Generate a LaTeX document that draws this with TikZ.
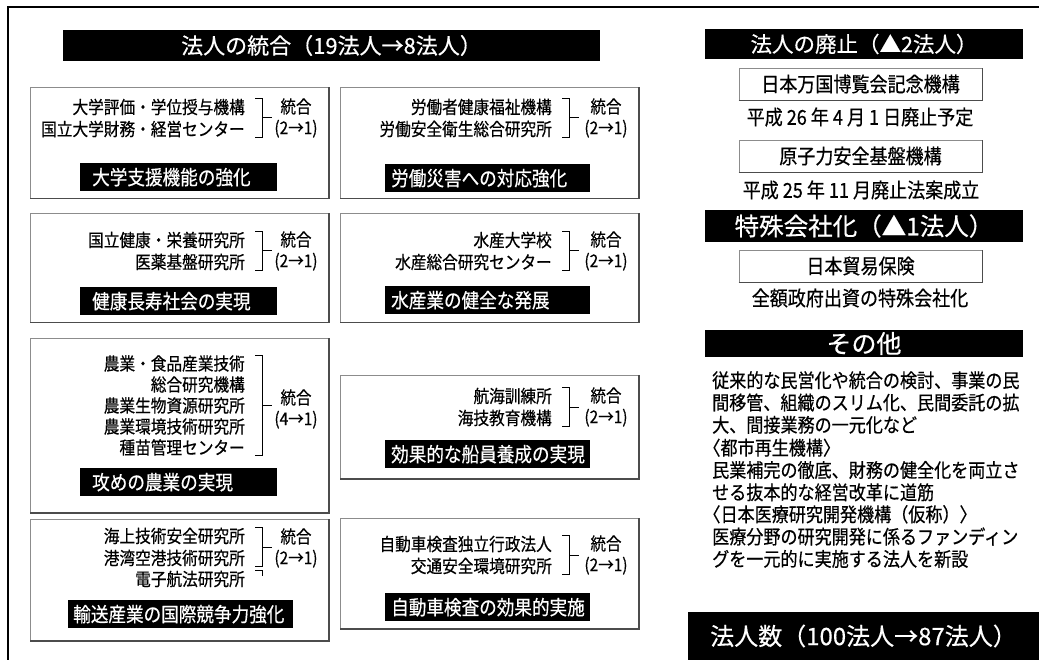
\documentclass[tikz,border=0pt]{standalone}
\usepackage{fontspec}
\setmainfont[FakeBold=0.5,AutoFakeBold=0.5]{Noto Sans CJK JP}
\newfontfamily\cond[FakeStretch=0.88,FakeBold=0.5]{Noto Sans CJK JP}

\begin{document}
\begin{tikzpicture}[x=1pt, y=-1pt,
    box/.style={draw=black!45, line width=0.8pt, anchor=north west, minimum width=298pt, inner sep=0pt},
    rbox/.style={draw=black!45, line width=0.8pt, minimum width=243pt, minimum height=32pt, inner sep=0pt, font=\cond\fontsize{20.5}{22}\selectfont},
    shadowline/.style={draw=black!70, line width=1.4pt},
    names/.style={anchor=east, inner sep=0pt, align=right, font=\cond\fontsize{17.8}{22}\selectfont},
    merge/.style={inner sep=0pt, align=center, font=\cond\fontsize{17.6}{21}\selectfont},
    tag/.style={fill=black, text=white, anchor=north west, inner xsep=6pt, inner ysep=0pt, minimum height=28pt, align=left, font=\cond\fontsize{20}{22}\selectfont},
    head/.style={fill=black, text=white, inner sep=0pt},
    brk/.style={line width=1pt},
    caption/.style={inner sep=0pt, font=\cond\fontsize{20.5}{22}\selectfont},
    para/.style={anchor=west, inner sep=0pt, align=left, font=\cond\fontsize{19.4}{22.3}\selectfont}
  ]
    \useasboundingbox (0,0) rectangle (1039,660);

    % Frame
    \draw[line width=2pt] (8,660) -- (8,7) -- (1039,7);

    % Merger header
    \node[head, minimum width=537pt, minimum height=31pt, font=\fontsize{22}{24}\selectfont] (hmerge) at (331.5,45.5) {法人の統合（19法人→8法人）};

    % Boxes
    \node[box, minimum height=111pt] (box1) at (30,87) {};
    \node[box, minimum height=111pt] (box2) at (340,87) {};
    \node[box, minimum height=109pt] (box3) at (30,213) {};
    \node[box, minimum height=109pt] (box4) at (340,213) {};
    \node[box, minimum height=174pt] (box5) at (30,338) {};
    \node[box, minimum height=103pt] (box6) at (340,375) {};
    \node[box, minimum height=121pt] (box7) at (30,519) {};
    \node[box, minimum height=110pt] (box8) at (340,518) {};

    % Institutes
    \node[names] (n1) at (245,118) {大学評価・学位授与機構\\国立大学財務・経営センター};
    \node[names] (n2) at (552,118) {労働者健康福祉機構\\労働安全衛生総合研究所};
    \node[names] (n3) at (245,251) {国立健康・栄養研究所\\医薬基盤研究所};
    \node[names] (n4) at (552,251) {水産大学校\\水産総合研究センター};
    \node[names, font=\cond\fontsize{17.8}{21}\selectfont] (n5) at (245,405.5) {農業・食品産業技術\\総合研究機構\\農業生物資源研究所\\農業環境技術研究所\\種苗管理センター};
    \node[names] (n6) at (552,407) {航海訓練所\\海技教育機構};
    \node[names] (n7) at (245,547) {海上技術安全研究所\\港湾空港技術研究所};
    \node[names] (n7c) at (245,579) {電子航法研究所};
    \node[names] (n8) at (552,555) {自動車検査独立行政法人\\交通安全環境研究所};

    % Brackets
    \foreach \n in {n1,n2,n3,n4,n5,n6,n7,n8}
      \draw[brk] ([xshift=10pt]\n.north east) -- ([xshift=17pt]\n.north east) -- ([xshift=17pt]\n.south east) -- ([xshift=10pt]\n.south east)
                 ([xshift=17pt]\n.east) -- ([xshift=27pt]\n.east);
    \draw[brk] ([xshift=10pt]n7c.north east) -- ([xshift=17pt]n7c.north east) -- ++(0,5);

    % Merge counts
    \node[merge] (m1) at (296,118) {統合\\(2→1)};
    \node[merge] (m2) at (606,118) {統合\\(2→1)};
    \node[merge] (m3) at (296,251) {統合\\(2→1)};
    \node[merge] (m4) at (606,251) {統合\\(2→1)};
    \node[merge] (m5) at (296,409) {統合\\(4→1)};
    \node[merge] (m6) at (606,407) {統合\\(2→1)};
    \node[merge] (m7) at (296,548) {統合\\(2→1)};
    \node[merge] (m8) at (606,555) {統合\\(2→1)};

    % Aims
    \node[tag, inner xsep=12pt, text width=173pt] (t1) at (80,163) {大学支援機能の強化};
    \node[tag, text width=193pt] (t2) at (385,164) {労働災害への対応強化};
    \node[tag, inner xsep=12pt, text width=173pt] (t3) at (80,287) {健康長寿社会の実現};
    \node[tag, text width=193pt] (t4) at (385,286) {水産業の健全な発展};
    \node[tag, inner xsep=12pt, text width=173pt] (t5) at (80,468) {攻めの農業の実現};
    \node[tag, text width=193pt] (t6) at (385,440) {効果的な船員養成の実現};
    \node[tag, inner xsep=5pt, text width=215pt] (t7) at (68,600) {輸送産業の国際競争力強化};
    \node[tag, text width=193pt] (t8) at (385,593) {自動車検査の効果的実施};

    % Abolition and special company
    \node[head, minimum width=318pt, minimum height=30pt, font=\fontsize{21.5}{24}\selectfont] (habol) at (864,44) {法人の廃止（▲2法人）};
    \node[rbox] (expo) at (860.5,84) {日本万国博覧会記念機構};
    \node[caption] (expoc) at (860,117) {平成 26 年 4 月 1 日廃止予定};
    \node[rbox] (jnes) at (860.5,156) {原子力安全基盤機構};
    \node[caption] (jnesc) at (861,190) {平成 25 年 11 月廃止法案成立};
    \node[head, minimum width=318pt, minimum height=32pt, font=\fontsize{24.5}{26}\selectfont] (hspec) at (864,226) {特殊会社化（▲1法人）};
    \node[rbox] (nexi) at (860.5,266) {日本貿易保険};
    \node[caption] (nexic) at (860,298) {全額政府出資の特殊会社化};

    % Others
    \node[head, minimum width=318pt, minimum height=27pt, font=\fontsize{25}{26}\selectfont] (hother) at (864,343.5) {その他};
    \node[para] (p1) at (712,402.5) {従来的な民営化や統合の検討、事業の民\\間移管、組織のスリム化、民間委託の拡\\大、間接業務の一元化など};
    \node[para] (p2) at (712,470) {\kern-0.45em〈都市再生機構〉\\民業補完の徹底、財務の健全化を両立さ\\せる抜本的な経営改革に道筋};
    \node[para] (p3) at (712,536.5) {\kern-0.45em〈日本医療研究開発機構（仮称）〉\\医療分野の研究開発に係るファンディン\\グを一元的に実施する法人を新設};

    % Total
    \node[head, minimum width=351pt, minimum height=48pt, font=\fontsize{24}{26}\selectfont] (total) at (863.5,636) {法人数（100法人→87法人）};

    % Box shadows
    \foreach \b in {box1,box2,box3,box4,box5,box6,box7,box8,expo,jnes,nexi}
      \draw[shadowline] (\b.south west) -- (\b.south east) -- (\b.north east);
  \end{tikzpicture}
\end{document}
